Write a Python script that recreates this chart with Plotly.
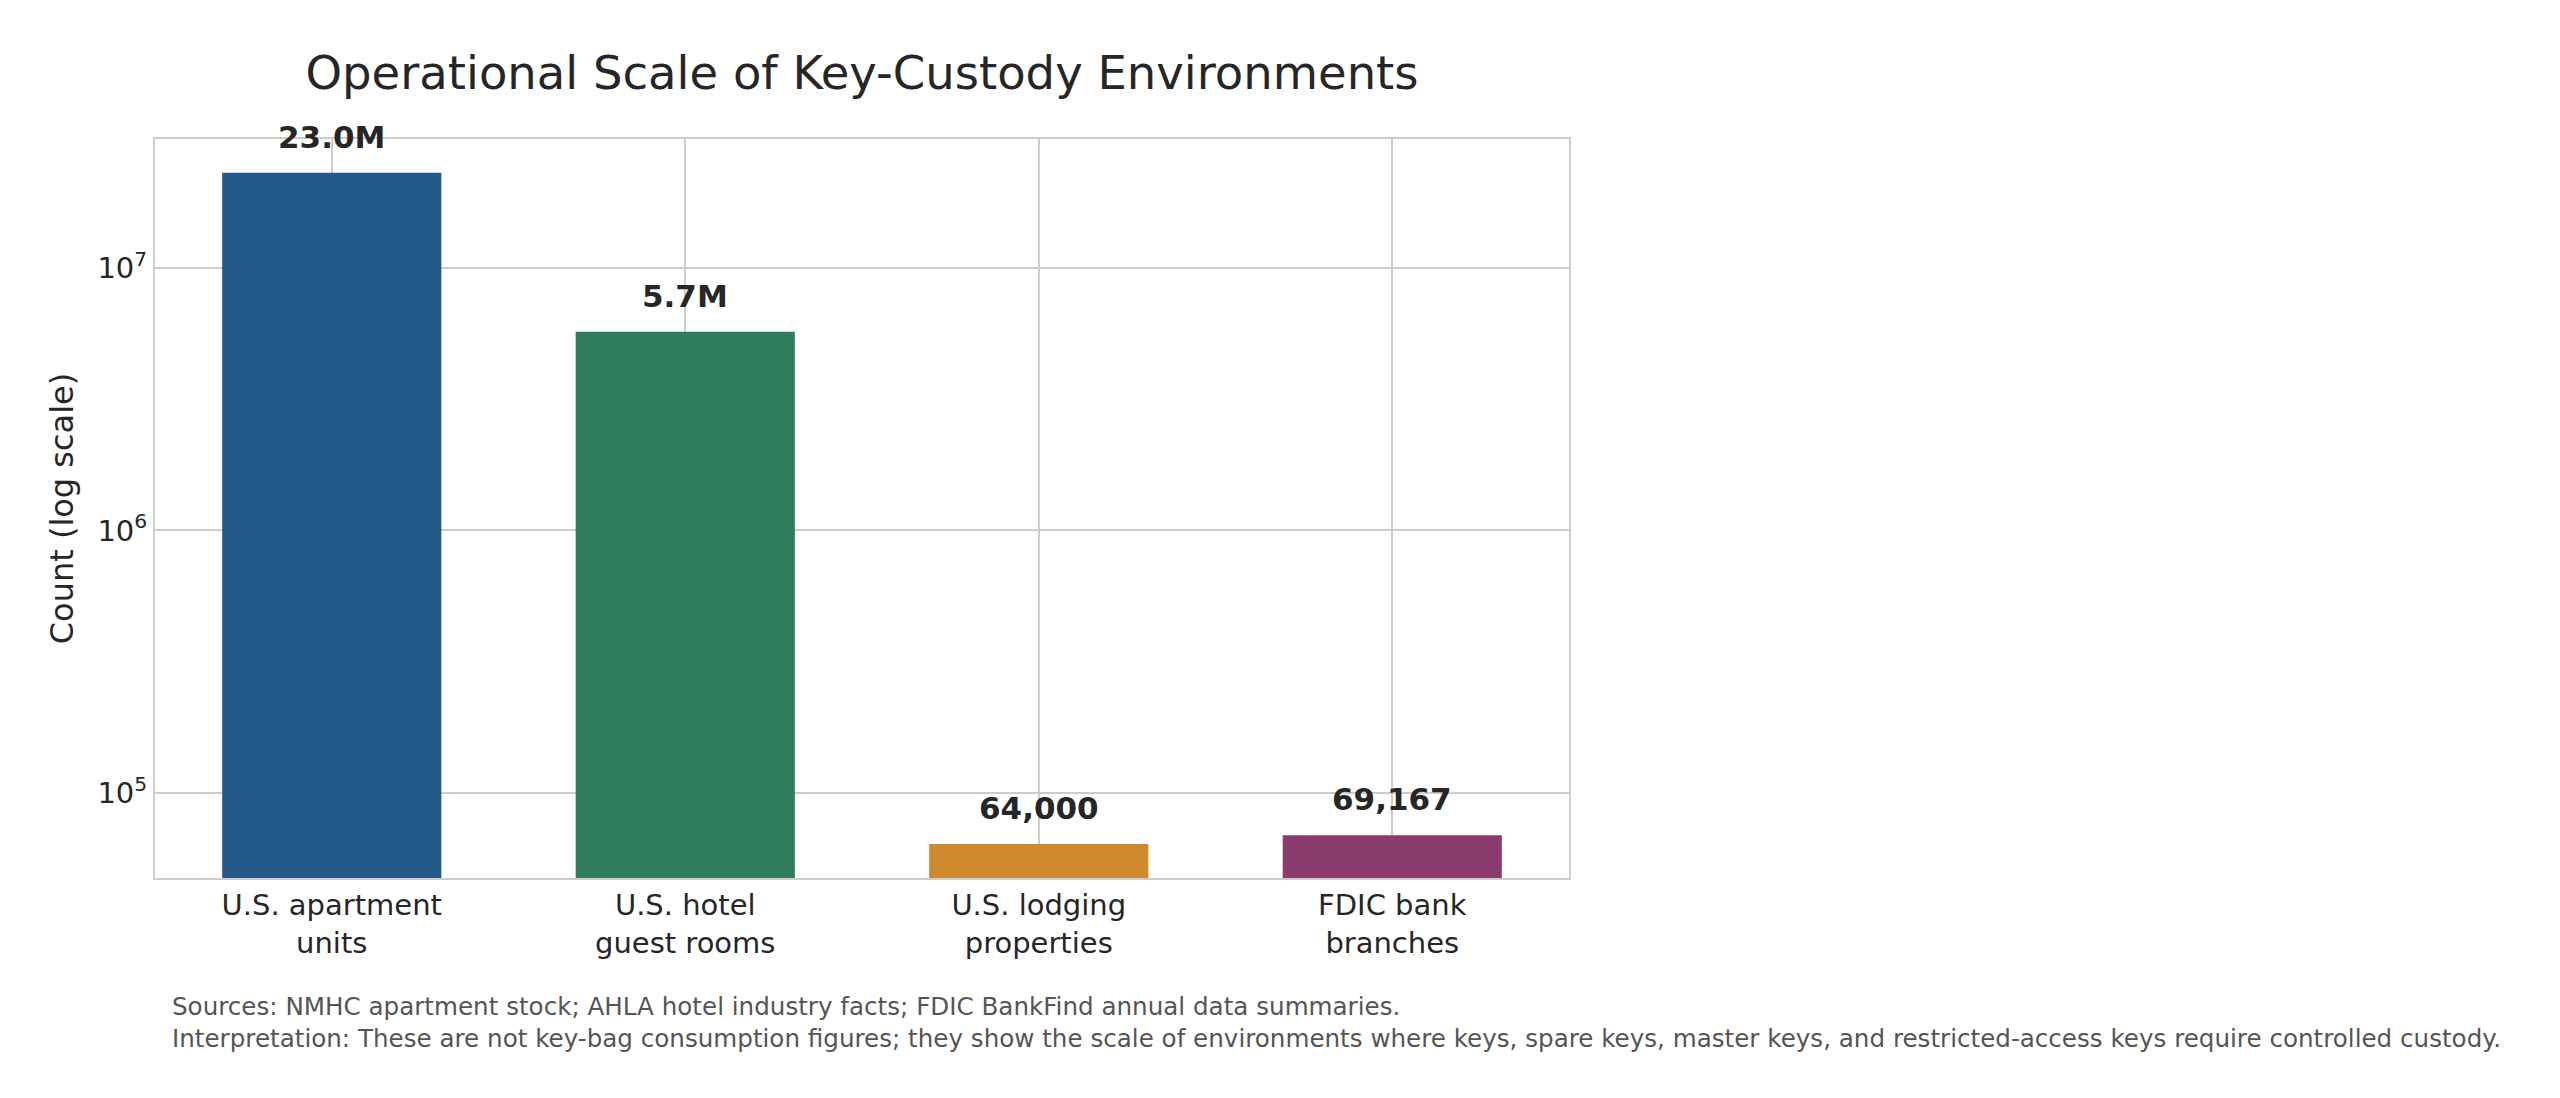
import math
import plotly.graph_objects as go

categories = ["U.S. apartment<br>units", "U.S. hotel<br>guest rooms", "U.S. lodging<br>properties", "FDIC bank<br>branches"]
values = [23_000_000, 5_700_000, 64_000, 69_167]
labels = ["23.0M", "5.7M", "64,000", "69,167"]
colors = ["#245A8A", "#2F7D5C", "#D08A2E", "#8A3D6C"]
ytick_vals = [1e5, 1e6, 1e7]
ytick_text = ["10<sup>5</sup>", "10<sup>6</sup>", "10<sup>7</sup>"]

FONT = "DejaVu Sans"
TXT = "#262626"

fig = go.Figure()
fig.add_trace(go.Bar(
    x=list(range(len(categories))), y=values, marker=dict(color=colors, line=dict(width=0)),
    width=0.62, showlegend=False, hoverinfo="skip",
))

for i, (v, lab) in enumerate(zip(values, labels)):
    fig.add_annotation(x=i, y=math.log10(v), xref="x", yref="y", text=f"<b>{lab}</b>",
                       showarrow=False, yanchor="bottom", yshift=16,
                       font=dict(family=FONT, size=31, color=TXT))

fig.add_annotation(
    xref="paper", yref="paper", x=(170 - 155) / (1569 - 155), y=-(1022 - 878) / (878 - 139),
    xanchor="left", yanchor="middle", align="left", showarrow=False,
    text="Sources: NMHC apartment stock; AHLA hotel industry facts; FDIC BankFind annual data summaries.<br>"
         "Interpretation: These are not key-bag consumption figures; they show the scale of environments where keys, spare keys, master keys, and restricted-access keys require controlled custody.",
    font=dict(family=FONT, size=24.6, color="#555555"),
)

fig.update_layout(
    width=2560, height=1098,
    margin=dict(l=155, r=2560 - 1569, t=139, b=1098 - 878),
    paper_bgcolor="white", plot_bgcolor="white",
    title=dict(text="Operational Scale of Key-Custody Environments", x=(155 + 1569) / 2 / 2560,
               xanchor="center", y=1 - 73 / 1098, yanchor="middle",
               font=dict(family=FONT, size=46.5, color=TXT)),
    font=dict(family=FONT, color=TXT),
)
fig.update_xaxes(
    range=[-0.5, 3.5], tickmode="array", tickvals=list(range(len(categories))), ticktext=categories,
    showgrid=True, gridcolor="#cccccc", gridwidth=2,
    showline=True, linecolor="#cccccc", linewidth=2, mirror=True,
    ticks="", tickfont=dict(family=FONT, size=29, color=TXT), zeroline=False,
)
fig.update_yaxes(
    type="log", range=[4.677, 7.49], tickmode="array", tickvals=ytick_vals, ticktext=ytick_text,
    showgrid=True, gridcolor="#cccccc", gridwidth=2,
    showline=True, linecolor="#cccccc", linewidth=2, mirror=True,
    ticks="", tickfont=dict(family=FONT, size=29, color=TXT), zeroline=False,
    title=dict(text="Count (log scale)", font=dict(family=FONT, size=32, color=TXT), standoff=14),
)

fig.write_html("out.html")
